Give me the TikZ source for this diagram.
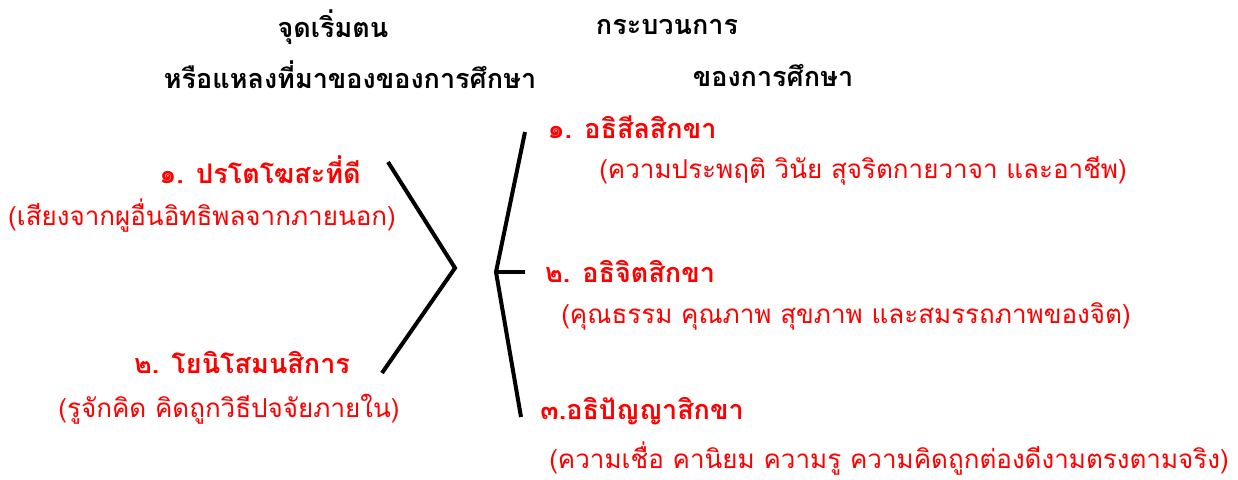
\documentclass[tikz,border=0pt]{standalone}
\usepackage{fontspec}
\newfontfamily\thai[Script=Thai]{Loma}
\definecolor{thred}{RGB}{255,0,0}
\tikzset{
  head/.style={font=\thai\bfseries\fontsize{27}{30}\selectfont, text=black, inner sep=0pt},
  redhead/.style={font=\thai\bfseries\fontsize{27}{30}\selectfont, text=thred, inner sep=0pt},
  redtext/.style={font=\thai\fontsize{26}{30}\selectfont, text=thred, inner sep=0pt},
  brace/.style={draw=black, line width=4pt}
}
\begin{document}
\begin{tikzpicture}[x=1pt,y=-1pt]
\useasboundingbox (0,0) rectangle (1238,479);
\node[head] (h1) at (333,27) {จุดเริ่มตน};
\node[head] (h2) at (350,75) {หรือแหลงที่มาของของการศึกษา};
\node[head] (h3) at (667,27) {กระบวนการ};
\node[head] (h4) at (773,75) {ของการศึกษา};

\node[redhead] (l1) at (260,170) {๑. ปรโตโฆสะที่ดี};
\node[redtext] (l1s) at (202,216) {(เสียงจากผูอื่นอิทธิพลจากภายนอก)};
\node[redhead] (l2) at (242,362) {๒. โยนิโสมนสิการ};
\node[redtext] (l2s) at (229,409) {(รูจักคิด คิดถูกวิธีปจจัยภายใน)};

\node[redhead] (r1) at (632,127) {๑. อธิสีลสิกขา};
\node[redtext] (r1s) at (863,171) {(ความประพฤติ วินัย สุจริตกายวาจา และอาชีพ)};
\node[redhead] (r2) at (630,271) {๒. อธิจิตสิกขา};
\node[redtext] (r2s) at (846,316) {(คุณธรรม คุณภาพ สุขภาพ และสมรรถภาพของจิต)};
\node[redhead] (r3) at (642,411) {๓.อธิปัญญาสิกขา};
\node[redtext] (r3s) at (889,459) {(ความเชื่อ คานิยม ความรู ความคิดถูกต่องดีงามตรงตามจริง)};

\coordinate (la) at (388,162);
\coordinate (lm) at (455,268);
\coordinate (lb) at (382,373);
\coordinate (ra) at (525,132);
\coordinate (rm) at (496,272);
\coordinate (rb) at (521,417);
\coordinate (rt) at (525,272);
\draw[brace] (la) -- (lm) -- (lb);
\draw[brace] (ra) -- (rm) -- (rb);
\draw[brace] (rm) -- (rt);
\end{tikzpicture}
\end{document}
